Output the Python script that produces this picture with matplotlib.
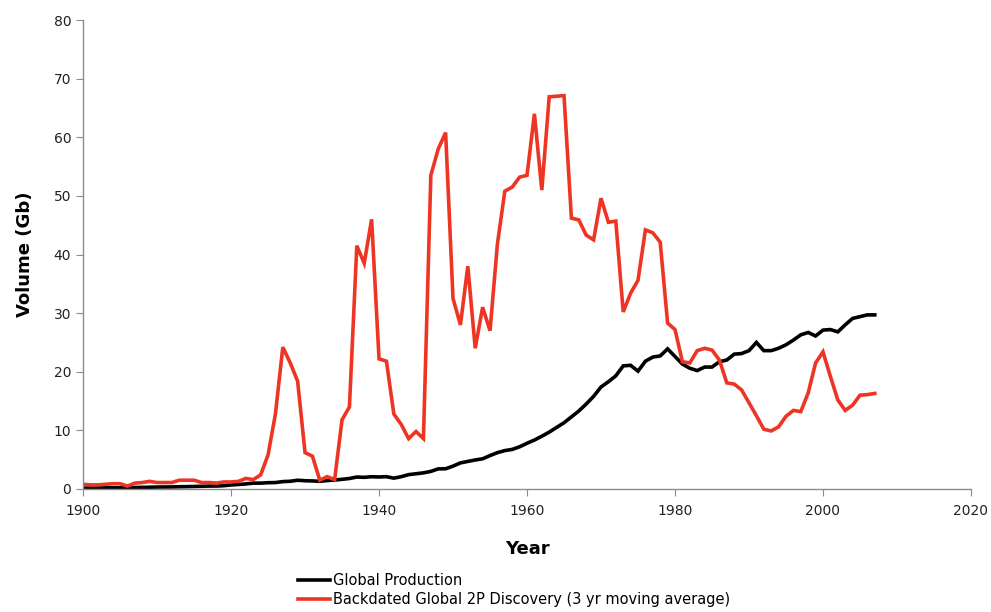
import matplotlib
matplotlib.use('Agg')
import matplotlib.pyplot as plt
import numpy as np

# --- data (Gb per year), 1900-2007 ---
years = list(range(1900, 2008))

production = [
    0.15, 0.17, 0.18, 0.19, 0.21, 0.21, 0.21, 0.26, 0.28, 0.30,   # 1900s
    0.33, 0.34, 0.35, 0.38, 0.40, 0.43, 0.46, 0.50, 0.50, 0.56,   # 1910s
    0.69, 0.77, 0.86, 1.00, 1.00, 1.07, 1.10, 1.26, 1.32, 1.49,   # 1920s
    1.41, 1.37, 1.31, 1.44, 1.52, 1.65, 1.79, 2.04, 1.99, 2.09,   # 1930s
    2.05, 2.10, 1.85, 2.10, 2.45, 2.60, 2.75, 3.00, 3.43, 3.45,   # 1940s
    3.90, 4.45, 4.70, 4.95, 5.15, 5.70, 6.20, 6.55, 6.75, 7.20,   # 1950s
    7.80, 8.35, 9.00, 9.70, 10.50, 11.30, 12.30, 13.30, 14.50, 15.80,  # 1960s
    17.40, 18.30, 19.30, 21.00, 21.10, 20.10, 21.80, 22.50, 22.70, 23.90,  # 1970s
    22.60, 21.30, 20.60, 20.20, 20.80, 20.80, 21.70, 22.00, 23.00, 23.10,  # 1980s
    23.60, 25.00, 23.60, 23.60, 24.00, 24.60, 25.40, 26.30, 26.70, 26.10,  # 1990s
    27.10, 27.20, 26.80, 28.00, 29.10, 29.40, 29.70, 29.70,               # 2000s
]

discovery = [
    0.8, 0.7, 0.7, 0.8, 0.9, 0.9, 0.5, 1.0, 1.1, 1.3,
    1.1, 1.1, 1.1, 1.5, 1.5, 1.5, 1.1, 1.1, 1.0, 1.2,
    1.2, 1.3, 1.8, 1.6, 2.4, 5.8, 12.8, 24.2, 21.5, 18.4,
    6.2, 5.6, 1.5, 2.1, 1.6, 11.8, 14.0, 41.5, 38.5, 46.0,
    22.2, 21.8, 12.8, 11.0, 8.6, 9.8, 8.6, 53.5, 58.0, 60.8,
    32.5, 28.0, 38.0, 24.0, 31.0, 27.0, 41.8, 50.8, 51.5, 53.2,
    53.5, 64.0, 51.0, 66.9, 67.0, 67.1, 46.2, 45.9, 43.3, 42.5,
    49.6, 45.5, 45.7, 30.2, 33.4, 35.6, 44.2, 43.7, 42.1, 28.3,
    27.2, 21.7, 21.5, 23.6, 24.0, 23.7, 22.0, 18.1, 17.9, 16.9,
    14.7, 12.5, 10.2, 9.9, 10.6, 12.4, 13.4, 13.2, 16.4, 21.5,
    23.4, 19.2, 15.2, 13.4, 14.3, 16.0, 16.1, 16.3,
]

label_prod = "Global Production"
label_disc = "Backdated Global 2P Discovery (3 yr moving average)"

# --- figure ---
fig = plt.figure(figsize=(9.91, 6.12), dpi=100)
ax = fig.add_axes([0.0838, 0.2010, 0.896, 0.7663])

ax.plot(years, production, color='black', lw=2.6, label=label_prod, solid_joinstyle='miter')
ax.plot(years, discovery, color='#EE3524', lw=2.6, label=label_disc, solid_joinstyle='miter')

ax.set_xlim(1900, 2020)
ax.set_ylim(0, 80)
ax.set_xticks(np.arange(1900, 2021, 20))
ax.set_yticks(np.arange(0, 81, 10))

for s in ['top', 'right']:
    ax.spines[s].set_visible(False)
for s in ['left', 'bottom']:
    ax.spines[s].set_color('#8c8c8c')
    ax.spines[s].set_linewidth(1.0)
ax.tick_params(axis='both', direction='out', length=5, color='#8c8c8c',
               labelsize=10, labelcolor='#222222')
ax.tick_params(axis='x', pad=6)

ax.set_xlabel("Year", fontsize=13, fontweight='bold', labelpad=16)
ax.set_ylabel("Volume (Gb)", fontsize=13, fontweight='bold', labelpad=14)

# legend sits under the axes
leg = fig.legend(loc='upper left', bbox_to_anchor=(0.3007, 0.064), frameon=False,
                 fontsize=10.5, handlelength=2.2, handletextpad=0.2, labelspacing=0.3,
                 borderpad=0, borderaxespad=0)

fig.savefig('out.png', dpi=100)
